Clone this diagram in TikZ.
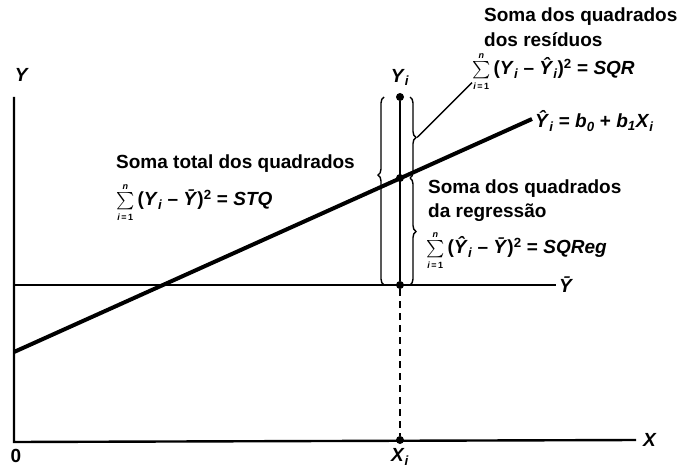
\documentclass[tikz,border=0pt]{standalone}
\usepackage{amsmath}
\usepackage{fontspec}
\setmainfont{Liberation Sans}
\usetikzlibrary{decorations.pathreplacing}
\newcommand{\mysmlim}[1]{\text{\fontsize{9}{9}\selectfont #1}}
\newcommand{\Sm}{\smash{$\sum\limits_{\mysmlim{\itshape i\upshape\,=\,1}}^{\mysmlim{\itshape n}}$}}
\newcommand{\mysub}[1]{$_{\text{\itshape #1}}$}
\begin{document}
\begin{tikzpicture}[x=1pt,y=-1pt,
  lbl/.style={font=\fontsize{19}{22}\selectfont\bfseries, inner sep=0pt},
  dot/.style={circle, fill=black, inner sep=0pt, minimum size=8pt},
  brc/.style={decorate, decoration={brace, amplitude=6pt}, line width=1.4pt},
  axis/.style={line width=2.4pt},
]
\useasboundingbox (0,0) rectangle (698,468);
% coordinates
\coordinate (o) at (14,442);
\coordinate (ytop) at (14,97);
\coordinate (xend) at (636,440);
\coordinate (r0) at (14,352);
\coordinate (r1) at (532,119);
\coordinate (b0) at (14,285);
\coordinate (b1) at (556,285);
% axes
\draw[axis] (ytop) -- (o) -- (xend);
% lines
\draw[line width=1.5pt] (b0) -- (b1);
\draw[line width=4pt] (r0) -- (r1);
% points
\node[dot] (yi) at (400,97) {};
\node[dot] (yh) at (400,178) {};
\node[dot] (yb) at (400,285) {};
\node[dot] (xi) at (400,440) {};
\draw[line width=2pt] (yi) -- (yb);
\draw[line width=2pt, dash pattern=on 7pt off 5pt] (yb) -- (xi);
% braces
\draw[brc, decoration={aspect=0.585}] (384,285) -- (384,97);
\draw[brc] (410,97) -- node[coordinate, pos=0.5, xshift=7pt] (tipr) {} (410,178);
\draw[brc] (410,178) -- (410,285);
% labels
\node[lbl, anchor=south] (lyi) at (400,86) {\textit{Y}\mysub{i}};
\node[lbl] (ly) at (22,75) {\textit{Y}};
\node[lbl] (lx) at (650,440) {\textit{X}};
\node[lbl] (l0) at (16,456) {0};
\node[lbl] (lxi) at (400,457) {\textit{X}\mysub{i}};
\node[lbl, anchor=west] (lyb) at (559,285) {\textit{Ȳ}};
\node[lbl, anchor=west] (lreg) at (535,121) {\textit{Ŷ}\mysub{i} = \textit{b}\mysub{0} + \textit{b}\mysub{1}\textit{X}\mysub{i}};
\node[lbl, anchor=west] (sqr1) at (484,17) {Soma dos quadrados};
\node[lbl, anchor=west] (sqr2) at (484,40) {dos resíduos};
\node[lbl, anchor=west] (sqr3) at (472,68) {\Sm\,(\textit{Y}\mysub{i} – \textit{Ŷ}\mysub{i})$^{\text{2}}$ = \textit{SQR}};
\node[lbl, anchor=west] (stq1) at (116,164) {Soma total dos quadrados};
\node[lbl, anchor=west] (stq2) at (116,200) {\Sm\,(\textit{Y}\mysub{i} – \textit{Ȳ})$^{\text{2}}$ = \textit{STQ}};
\node[lbl, anchor=west] (sqg1) at (428,189) {Soma dos quadrados};
\node[lbl, anchor=west] (sqg2) at (428,213) {da regressão};
\node[lbl, anchor=west] (sqg3) at (426,247) {\Sm\,(\textit{Ŷ}\mysub{i} – \textit{Ȳ})$^{\text{2}}$ = \textit{SQReg}};
% leader
\draw[line width=1.4pt] (tipr) -- ([yshift=-4pt]sqr3.south west);
\end{tikzpicture}
\end{document}
